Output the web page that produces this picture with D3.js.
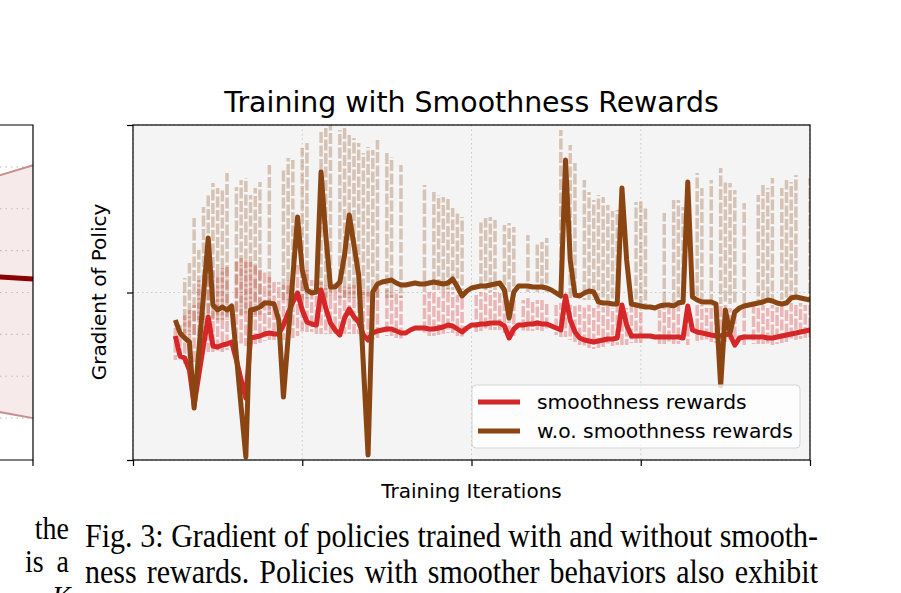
<!DOCTYPE html>
<html><head><meta charset="utf-8">
<script src="https://cdn.jsdelivr.net/npm/d3@7"></script>
<style>body{margin:0;background:#fff;} svg{display:block;}</style>
</head><body>
<svg id="c" width="901" height="593"></svg>
<script>
// ---------------- DATA ----------------
const iterations = d3.range(9, 145);
const xTicks = [0, 36, 72, 108, 144];
const yTicks = [0, 1.675, 3.35];

const withSmooth = [
 1.24,1.04,1.02,0.90,0.55,0.85,1.15,1.43,1.14,1.13,
 1.15,1.16,1.18,1.00,0.80,0.62,1.22,1.23,1.24,1.26,
 1.27,1.26,1.26,1.35,1.47,1.58,1.67,1.50,1.38,1.36,
 1.35,1.70,1.52,1.37,1.30,1.25,1.42,1.51,1.43,1.38,
 1.25,1.20,1.27,1.29,1.30,1.31,1.31,1.29,1.27,1.27,
 1.30,1.32,1.32,1.32,1.31,1.31,1.32,1.33,1.35,1.34,
 1.31,1.28,1.32,1.35,1.35,1.36,1.36,1.37,1.37,1.37,
 1.34,1.22,1.31,1.35,1.35,1.36,1.36,1.37,1.36,1.36,
 1.34,1.32,1.30,1.64,1.40,1.28,1.22,1.20,1.19,1.18,
 1.19,1.20,1.21,1.21,1.22,1.55,1.35,1.24,1.24,1.24,
 1.24,1.24,1.23,1.23,1.23,1.23,1.23,1.23,1.22,1.54,
 1.30,1.28,1.27,1.26,1.25,1.24,1.24,1.26,1.25,1.15,
 1.22,1.23,1.23,1.23,1.23,1.23,1.22,1.22,1.23,1.24,
 1.25,1.26,1.27,1.28,1.29,1.30];

const withoutSmooth = [
 1.40,1.27,1.22,1.18,0.52,1.09,1.65,2.22,1.55,1.50,
 1.53,1.50,1.54,1.04,0.53,0.03,1.50,1.51,1.53,1.57,
 1.57,1.56,1.40,0.63,1.23,1.83,2.43,1.90,1.70,1.67,
 1.68,2.88,2.25,1.73,1.73,1.78,2.05,2.45,2.15,1.85,
 0.95,0.05,1.68,1.76,1.78,1.79,1.80,1.77,1.75,1.75,
 1.76,1.77,1.76,1.76,1.77,1.78,1.77,1.76,1.77,1.81,
 1.73,1.64,1.69,1.72,1.73,1.74,1.74,1.75,1.76,1.77,
 1.70,1.42,1.68,1.74,1.74,1.74,1.73,1.73,1.73,1.72,
 1.70,1.67,1.64,3.00,2.00,1.65,1.64,1.67,1.69,1.68,
 1.58,1.57,1.57,1.56,1.56,2.72,2.00,1.56,1.55,1.54,
 1.53,1.53,1.52,1.54,1.55,1.55,1.54,1.57,1.58,2.78,
 1.63,1.60,1.58,1.58,1.58,1.56,0.74,1.50,1.27,1.48,
 1.52,1.54,1.55,1.56,1.57,1.58,1.60,1.59,1.57,1.56,
 1.57,1.62,1.63,1.62,1.61,1.60];

// spread across seeds (null = not logged)
const smoothSpreadLow = [
 1.00,0.98,0.96,0.96,0.98,1.02,1.06,1.08,1.08,1.08,
 1.08,1.10,1.12,1.14,1.14,1.14,1.15,1.16,1.17,1.19,
 1.20,1.20,1.20,1.20,1.21,1.22,1.24,1.26,1.28,1.28,
 1.26,1.26,1.26,1.26,1.26,1.26,1.26,1.26,1.26,1.26,
 1.22,1.20,1.20,1.22,1.23,1.24,1.24,1.22,1.20,1.20,
 1.23,1.25,1.25,1.25,1.24,1.24,1.25,1.26,1.27,1.27,
 1.24,1.22,1.25,1.27,1.28,1.29,1.29,1.30,1.30,1.30,
 1.27,1.20,1.24,1.28,1.28,1.29,1.29,1.30,1.29,1.29,
 1.27,1.25,1.23,1.23,1.20,1.18,1.15,1.13,1.12,1.11,
 1.12,1.13,1.14,1.14,1.15,1.15,1.15,1.17,1.17,1.17,
 1.17,1.17,1.16,1.16,1.16,1.16,1.16,1.16,1.15,1.15,
 1.17,1.19,1.20,1.19,1.18,1.17,1.17,1.18,1.18,1.12,
 1.14,1.15,1.16,1.16,1.16,1.16,1.15,1.15,1.16,1.17,
 1.18,1.19,1.20,1.21,1.22,1.23];
const smoothSpreadHigh = [
 1.35,1.35,1.45,1.50,1.55,1.80,1.85,1.88,1.90,1.85,
 1.92,1.95,null,1.98,2.02,2.00,1.98,1.95,1.92,1.90,
 1.85,1.80,1.78,1.75,1.80,1.92,1.95,1.95,1.90,1.80,
 1.77,1.78,1.75,1.75,1.77,1.78,1.75,1.73,1.75,1.70,
 1.70,1.68,1.70,1.72,null,1.70,1.68,1.70,1.65,null,
 null,null,null,1.70,1.68,1.70,1.65,1.70,1.72,1.68,
 1.65,1.62,null,null,1.65,1.68,1.67,1.70,1.68,1.67,
 1.65,1.60,1.62,null,1.60,1.62,1.60,1.60,1.60,1.58,
 null,1.55,1.57,1.60,1.55,1.55,1.55,1.55,1.55,1.52,
 1.55,1.53,1.55,1.52,1.55,1.50,1.52,1.54,1.55,1.52,
 null,null,null,1.50,1.54,1.52,1.55,1.55,null,1.52,
 null,1.57,1.55,1.52,1.55,1.54,1.55,1.55,1.52,1.50,
 null,1.52,null,1.55,1.53,1.55,1.52,1.55,1.53,1.55,
 1.50,1.57,1.55,1.57,1.55,1.55];
const noSmoothSpreadLow = [
 1.25,1.25,1.25,1.25,1.25,1.40,1.40,1.40,1.40,1.40,
 1.40,1.40,1.45,1.45,1.45,1.45,1.45,1.45,1.45,1.45,
 1.45,1.60,1.60,1.60,1.60,1.60,1.60,1.60,1.60,1.60,
 1.60,1.62,1.62,1.62,1.62,1.62,1.62,1.62,1.62,1.62,
 1.62,1.62,1.62,1.62,1.62,1.62,1.62,1.62,1.62,1.70,
 1.70,1.70,1.70,1.70,1.70,1.70,1.70,1.70,1.70,1.70,
 1.70,1.70,1.70,1.70,1.70,1.70,1.70,1.70,1.70,1.70,
 1.68,1.68,1.68,1.68,1.68,1.68,1.68,1.68,1.68,1.68,
 1.68,1.68,1.62,1.62,1.62,1.62,1.62,1.60,1.60,1.60,
 1.60,1.60,1.60,1.60,1.60,1.55,1.55,1.55,1.55,1.55,
 1.55,1.55,1.55,1.55,1.55,1.55,1.55,1.55,1.55,1.58,
 1.58,1.58,1.58,1.58,1.58,1.58,1.56,1.56,1.56,1.56,
 1.56,1.56,1.56,1.56,1.58,1.58,1.58,1.58,1.58,1.60,
 1.60,1.60,1.60,1.60,1.60,1.60];
const noSmoothSpreadHigh = [
 null,null,1.82,1.97,2.42,2.10,2.53,2.66,2.77,2.72,
 2.70,2.87,null,2.73,2.80,2.82,2.65,2.72,2.78,null,
 2.95,null,null,2.92,3.02,3.00,null,3.12,3.17,null,
 null,3.30,3.32,3.35,null,3.30,3.32,3.27,3.22,3.17,
 3.07,3.13,3.10,3.20,null,3.07,3.03,null,2.95,null,
 null,null,null,2.75,null,2.68,2.65,2.63,2.62,2.52,
 2.48,2.43,null,null,null,2.40,2.42,2.43,2.40,null,
 2.35,2.37,2.33,null,null,2.25,null,2.17,2.18,2.22,
 null,null,3.30,null,3.15,2.97,null,2.80,2.68,2.60,
 2.65,2.63,2.55,2.49,2.50,null,null,null,2.58,2.60,
 2.52,null,null,null,2.47,null,2.60,2.60,2.53,null,
 null,2.87,2.72,null,2.80,null,2.92,2.78,2.77,2.70,
 null,2.57,null,null,2.65,2.77,2.72,2.82,null,2.72,
 2.80,2.78,2.85,null,null,2.82];

// neighbouring panel (cropped at left edge)
const leftIter = [0.85, 1.0];
const leftMean = [4.39, 4.32];
const leftUpper = [6.69, 7.04];
const leftLower = [1.21, 1.00];
const leftGrid = [1, 2, 3, 4, 5, 6, 7];

const seriesNames = ["smoothness rewards", "w.o. smoothness rewards"];
const title = "Training with Smoothness Rewards";
const xLabel = "Training Iterations";
const yLabel = "Gradient of Policy";
const captionLines = ["Fig. 3: Gradient of policies trained with and without smooth-",
                      "ness rewards. Policies with smoother behaviors also exhibit"];

// ---------------- DRAW ----------------
const svg = d3.select("#c");
const FONT = "DejaVu Sans, Verdana, sans-serif";
const RED = "#d62728", BROWN = "#8b4513";

// left cropped panel
const lx = d3.scaleLinear().domain([0, 1]).range([-290, 33]);
const ly = d3.scaleLinear().domain([0, 8]).range([460, 125]);
const lg = svg.append("g");
lg.selectAll("line.g").data(leftGrid).join("line")
  .attr("x1", 0).attr("x2", 33).attr("y1", d => ly(d)).attr("y2", d => ly(d))
  .attr("stroke", "#c8c8c8").attr("stroke-width", 1.2).attr("stroke-dasharray", "1.5,4");
const lpts = leftIter.map((x, k) => ({x, m: leftMean[k], u: leftUpper[k], l: leftLower[k]}));
lg.append("path").datum(lpts)
  .attr("d", d3.area().x(d => lx(d.x)).y0(d => ly(d.l)).y1(d => ly(d.u)))
  .attr("fill", "rgba(190,80,80,0.12)");
lg.append("path").datum(lpts).attr("d", d3.line().x(d => lx(d.x)).y(d => ly(d.u)))
  .attr("fill", "none").attr("stroke", "#c98f8f").attr("stroke-width", 2);
lg.append("path").datum(lpts).attr("d", d3.line().x(d => lx(d.x)).y(d => ly(d.l)))
  .attr("fill", "none").attr("stroke", "#c98f8f").attr("stroke-width", 2);
lg.append("path").datum(lpts).attr("d", d3.line().x(d => lx(d.x)).y(d => ly(d.m)))
  .attr("fill", "none").attr("stroke", "#8b0000").attr("stroke-width", 5);
lg.append("path").attr("d", `M0,${ly(8)}H${lx(1)}V${ly(0)}H0`)
  .attr("fill", "none").attr("stroke", "#000").attr("stroke-width", 1.2);
lg.append("line").attr("x1", lx(1)).attr("x2", lx(1)).attr("y1", ly(0)).attr("y2", ly(0) + 6)
  .attr("stroke", "#000").attr("stroke-width", 1.2);

// main panel
const x = d3.scaleLinear().domain([0, 144]).range([133, 810]);
const y = d3.scaleLinear().domain([0, 3.35]).range([460, 125]);

svg.append("defs").append("clipPath").attr("id", "clip")
  .append("rect").attr("x", 133).attr("y", 125).attr("width", 677).attr("height", 335);

svg.append("rect").attr("x", 133).attr("y", 125).attr("width", 677).attr("height", 335)
  .attr("fill", "#f4f4f4");

// grid
const grid = svg.append("g");
grid.selectAll("line.vx").data(xTicks).join("line")
  .attr("x1", d => x(d)).attr("x2", d => x(d)).attr("y1", y(3.35)).attr("y2", y(0))
  .attr("stroke", "#c8c8c8").attr("stroke-width", 1).attr("stroke-dasharray", "1.5,3");
grid.selectAll("line.hy").data(yTicks).join("line")
  .attr("x1", x(0)).attr("x2", x(144)).attr("y1", d => y(d)).attr("y2", d => y(d))
  .attr("stroke", "#c8c8c8").attr("stroke-width", 1).attr("stroke-dasharray", "1.5,3");

const plot = svg.append("g").attr("clip-path", "url(#clip)");
const rows = iterations.map((it, k) => ({
  it, r: withSmooth[k], b: withoutSmooth[k],
  pl: smoothSpreadLow[k], ph: smoothSpreadHigh[k],
  tl: noSmoothSpreadLow[k], th: noSmoothSpreadHigh[k]
}));

plot.selectAll("line.pink").data(rows.filter(d => d.ph != null)).join("line")
  .attr("x1", d => x(d.it)).attr("x2", d => x(d.it))
  .attr("y1", d => y(d.pl)).attr("y2", d => y(d.ph))
  .attr("stroke", "rgba(214,39,40,0.3)").attr("stroke-width", 3.5)
  .attr("stroke-dasharray", "11,2.5").attr("stroke-dashoffset", d => (d.it * 5) % 13);
plot.selectAll("line.tan").data(rows.filter(d => d.th != null)).join("line")
  .attr("x1", d => x(d.it)).attr("x2", d => x(d.it))
  .attr("y1", d => y(d.tl)).attr("y2", d => y(d.th))
  .attr("stroke", "rgba(139,69,19,0.28)").attr("stroke-width", 3.5)
  .attr("stroke-dasharray", "11,2.5").attr("stroke-dashoffset", d => (d.it * 7) % 13);

plot.append("path").datum(rows)
  .attr("d", d3.line().x(d => x(d.it)).y(d => y(d.r)))
  .attr("fill", "none").attr("stroke", RED).attr("stroke-width", 5).attr("stroke-linejoin", "round");
plot.append("path").datum(rows)
  .attr("d", d3.line().x(d => x(d.it)).y(d => y(d.b)))
  .attr("fill", "none").attr("stroke", BROWN).attr("stroke-width", 5).attr("stroke-linejoin", "round");

// axes
const xa = svg.append("g").attr("transform", `translate(0,${y(0)})`)
  .call(d3.axisBottom(x).tickValues(xTicks).tickFormat("").tickSizeOuter(0).tickSize(6));
const ya = svg.append("g").attr("transform", `translate(${x(0)},0)`)
  .call(d3.axisLeft(y).tickValues(yTicks).tickFormat("").tickSizeOuter(0).tickSize(6));
[xa, ya].forEach(a => { a.select(".domain").remove(); a.selectAll("line").attr("stroke", "#000").attr("stroke-width", 1.2); });
svg.append("rect").attr("x", 133).attr("y", 125).attr("width", 677).attr("height", 335)
  .attr("fill", "none").attr("stroke", "#000").attr("stroke-width", 1.2);

// legend
const leg = svg.append("g");
leg.append("rect").attr("x", 472).attr("y", 385).attr("width", 328).attr("height", 63).attr("rx", 4)
  .attr("fill", "rgba(255,255,255,0.8)").attr("stroke", "#d6d6d6").attr("stroke-width", 1);
[[RED, 0], [BROWN, 1]].forEach(([c, k]) => {
  const yy = 402 + k * 29;
  leg.append("line").attr("x1", 478).attr("x2", 520).attr("y1", yy).attr("y2", yy)
    .attr("stroke", c).attr("stroke-width", 5);
  leg.append("text").attr("x", 537).attr("y", yy + 7).text(seriesNames[k])
    .attr("font-family", FONT).attr("font-size", 20.3).attr("fill", "#000");
});

// titles
svg.append("text").attr("x", 471.5).attr("y", 112).attr("text-anchor", "middle")
  .attr("font-family", FONT).attr("font-size", 28.4).text(title);
svg.append("text").attr("x", 471.5).attr("y", 498).attr("text-anchor", "middle")
  .attr("font-family", FONT).attr("font-size", 20).text(xLabel);
svg.append("text").attr("transform", "translate(106,292) rotate(-90)").attr("text-anchor", "middle")
  .attr("font-family", FONT).attr("font-size", 20).text(yLabel);

// caption (justified, tall serif as in the scanned page)
const SERIF = "Liberation Serif, Times New Roman, serif";
function serif(xp, yp, t, anchor, italic, size) {
  return svg.append("text").attr("transform", `translate(${xp},${yp}) scale(1,1.12)`)
    .attr("text-anchor", anchor || "start")
    .attr("font-family", SERIF).attr("font-style", italic ? "italic" : "normal")
    .attr("font-size", size || 30).text(t);
}
captionLines.forEach((t, k) => {
  const el = serif(85, 547 + k * 36, t);
  const w = el.node().getComputedTextLength();
  const spaces = (t.match(/ /g) || []).length;
  el.attr("word-spacing", (733 - w) / spaces);
});
// neighbouring column fragments
serif(69, 539, "the", "end", false, 28);
serif(25, 572, "is", "start", false, 28);
serif(69, 572, "a", "end", false, 28);
serif(52, 608, "K", "start", true, 28);
</script>
</body></html>
